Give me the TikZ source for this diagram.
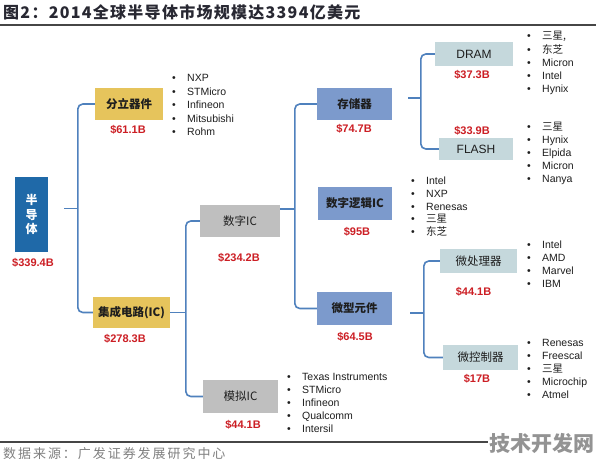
\documentclass[tikz,border=0pt]{standalone}
\usepackage{fontspec}
\setmainfont{Liberation Sans}
\newfontfamily\cjk{Noto Sans CJK SC}
\newfontfamily\cjktitle[LetterSpace=8]{Noto Sans CJK SC}
\newfontfamily\cjksrc[LetterSpace=15]{Noto Sans CJK SC}
\definecolor{rootc}{RGB}{31,105,168}
\definecolor{goldc}{RGB}{230,196,92}
\definecolor{grayc}{RGB}{191,191,191}
\definecolor{midc}{RGB}{124,154,204}
\definecolor{lightc}{RGB}{197,216,220}
\definecolor{redc}{RGB}{204,30,36}
\definecolor{brc}{RGB}{79,129,189}
\definecolor{titlec}{RGB}{40,40,50}
\definecolor{textc}{RGB}{30,30,30}
\definecolor{rulec}{RGB}{70,70,70}
\begin{document}
\begin{tikzpicture}[x=1pt,y=-1pt,
  boxbase/.style={inner sep=0pt, text=textc, font=\cjk\bfseries\fontsize{11.5}{13}\selectfont},
  boxgold/.style={boxbase, fill=goldc},
  boxgray/.style={boxbase, fill=grayc, font=\cjk\fontsize{11.5}{13}\selectfont},
  boxmid/.style={boxbase, fill=midc},
  boxlight/.style={boxbase, fill=lightc, font=\cjk\fontsize{11.5}{13}\selectfont},
  money/.style={inner sep=0pt, text=redc, font=\bfseries\fontsize{11}{13}\selectfont},
  item/.style={anchor=base west, inner sep=0pt, text=textc, font=\fontsize{10.5}{12}\selectfont,
    execute at begin node={\makebox[15pt][l]{\textbullet}}},
  br/.style={draw=brc, line width=1.6pt, rounded corners=5pt}
]
\useasboundingbox[fill=white] (0,0) rectangle (596,466);

% title and rules
\node[anchor=west, inner sep=0pt, text=titlec, font=\cjktitle\bfseries\fontsize{16}{18}\selectfont] (title) at (3,12) {图2：2014全球半导体市场规模达3394亿美元};
\draw[rulec, line width=1.4pt] (0,25) -- (596,25);
\draw[rulec, line width=1.2pt] (0,442) -- (596,442);
\node[anchor=west, inner sep=0pt, text=gray, font=\cjksrc\fontsize{13}{15}\selectfont] (src) at (3,454) {数据来源：广发证券发展研究中心};
\node[anchor=east, inner sep=1.5pt, fill=white, text=gray!85, font=\cjk\bfseries\fontsize{21}{24}\selectfont] (wm) at (596,443) {技术开发网};

% boxes
\node[boxbase, fill=rootc, text=white, minimum width=33pt, minimum height=75pt, align=center,
  font=\cjk\bfseries\fontsize{12}{14.5}\selectfont] (root) at (31.5,214.5) {半\\导\\体};
\node[money] (vroot) at (33,263) {\$339.4B};

\node[boxgold, minimum width=68pt, minimum height=32pt] (fenli) at (129,104) {分立器件};
\node[money] (vfenli) at (128,130) {\$61.1B};
\node[boxgold, minimum width=77pt, minimum height=31pt] (jicheng) at (131.5,312.5) {集成电路(IC)};
\node[money] (vjicheng) at (125,339) {\$278.3B};

\node[boxgray, minimum width=80pt, minimum height=32pt] (shuzi) at (240,221) {数字IC};
\node[money] (vshuzi) at (239,258) {\$234.2B};
\node[boxgray, minimum width=75pt, minimum height=33pt] (moni) at (240.5,396.5) {模拟IC};
\node[money] (vmoni) at (243,425) {\$44.1B};

\node[boxmid, minimum width=75pt, minimum height=32pt] (cunchu) at (354.5,104) {存储器};
\node[money] (vcunchu) at (354,129) {\$74.7B};
\node[boxmid, minimum width=74pt, minimum height=33pt] (luoji) at (355,203.5) {数字逻辑IC};
\node[money] (vluoji) at (357,232) {\$95B};
\node[boxmid, minimum width=75pt, minimum height=33pt] (weixing) at (354.5,308.5) {微型元件};
\node[money] (vweixing) at (355,337) {\$64.5B};

\node[boxlight, minimum width=78pt, minimum height=24pt, font=\fontsize{12}{14}\selectfont] (dram) at (474,54) {DRAM};
\node[money] (vdram) at (472,75) {\$37.3B};
\node[boxlight, minimum width=74pt, minimum height=22pt, font=\fontsize{12}{14}\selectfont] (flash) at (476,149) {FLASH};
\node[money] (vflash) at (472,131) {\$33.9B};
\node[boxlight, minimum width=77pt, minimum height=24pt] (wcl) at (478.5,261) {微处理器};
\node[money] (vwcl) at (473.5,292) {\$44.1B};
\node[boxlight, minimum width=75pt, minimum height=25pt] (wkz) at (480.5,357.5) {微控制器};
\node[money] (vwkz) at (477,379) {\$17B};

% brackets
\draw[br] (fenli.west) -- ++(-17,0) |- (jicheng.west);
\draw[br] ([xshift=16pt,yshift=6pt]root.east) -- ++(14,0);
\draw[br] (shuzi.west) -- ++(-14,0) |- (moni.west);
\draw[br] (jicheng.east) -- ++(16,0);
\draw[br] (cunchu.west) -- ++(-22,0) |- (weixing.west);
\draw[br] ([yshift=12pt]shuzi.east) -- ++(15,0);
\draw[br] (dram.west) -- ++(-14,0) |- (flash.west);
\draw[br] ([xshift=16pt,yshift=6pt]cunchu.east) -- ++(13,0);
\draw[br] (wcl.west) -- ++(-16,0) |- (wkz.west);
\draw[br] ([xshift=18pt,yshift=-4.5pt]weixing.east) -- ++(14,0);

% bullet lists
\foreach \t [count=\i] in {NXP,STMicro,Infineon,Mitsubishi,Rohm}
  \node[item] (fa\i) at (172,{81.8+13.5*(\i-1)}) {\t};
\foreach \t [count=\i] in {Texas Instruments,STMicro,Infineon,Qualcomm,Intersil}
  \node[item] (mo\i) at (287,{380.8+13*(\i-1)}) {\t};
\foreach \t [count=\i] in {Intel,NXP,Renesas,{\cjk 三星},{\cjk 东芝}}
  \node[item] (lo\i) at (411,{184.8+12.7*(\i-1)}) {\t};
\foreach \t [count=\i] in {{\cjk 三星,},{\cjk 东芝},Micron,Intel,Hynix}
  \node[item] (dr\i) at (527,{39.8+13.2*(\i-1)}) {\t};
\foreach \t [count=\i] in {{\cjk 三星},Hynix,Elpida,Micron,Nanya}
  \node[item] (fl\i) at (527,{130.8+13*(\i-1)}) {\t};
\foreach \t [count=\i] in {Intel,AMD,Marvel,IBM}
  \node[item] (cp\i) at (527,{248.8+13*(\i-1)}) {\t};
\foreach \t [count=\i] in {Renesas,Freescal,{\cjk 三星},Microchip,Atmel}
  \node[item] (mc\i) at (527,{346.8+13*(\i-1)}) {\t};
\end{tikzpicture}
\end{document}
